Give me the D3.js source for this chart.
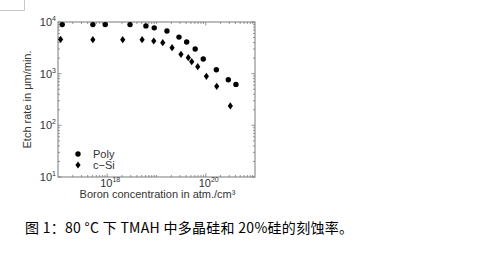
<!DOCTYPE html>
<html>
<head>
<meta charset="utf-8">
<script src="https://cdn.jsdelivr.net/npm/d3@7"></script>
<style>
  body { margin: 0; background: #fff; }
  svg text { font-family: "Liberation Sans", "DejaVu Sans", sans-serif; }
</style>
</head>
<body>
<script>
// boron concentration (atm/cm3) and etch rates
var polyX = [1.22e17, 5.1e17, 9.1e17, 2.9e18, 6.1e18, 9.0e18, 1.63e19, 2.86e19, 4.1e19, 6.1e19, 8.9e19, 1.64e20, 2.87e20, 4.1e20];
var polyY = [8900, 8900, 8900, 8900, 8400, 7700, 6700, 5100, 4100, 3000, 1920, 1190, 760, 620];
var csiX = [1.13e17, 5.1e17, 2.06e18, 5.1e18, 8.8e18, 1.34e19, 2.07e19, 3.14e19, 4.42e19, 5.19e19, 6.87e19, 1.03e20, 1.67e20, 3.16e20];
var csiY = [4600, 4550, 4550, 4550, 4290, 3980, 3180, 2370, 2040, 1710, 1365, 890, 570, 237];
var legendLabels = ["Poly", "c\u2212Si"];
var xTickVals = [1e18, 1e20];
var yTickVals = [10, 100, 1000, 10000];
var caption = "图 1：80 °C 下 TMAH 中多晶硅和 20%硅的刻蚀率。";

function draw() {
  var width = 493, height = 254;
  var pl = 58, pr = 255, pt = 22, pb = 177;
  var axisCol = "#7a7a7a", textCol = "#333";

  var svg = d3.select("body").append("svg")
      .attr("width", width)
      .attr("height", height);

  // little grey box in the top-left corner of the page
  svg.append("path")
      .attr("d", "M0,10.5H24.5V0")
      .attr("fill", "none")
      .attr("stroke", "#c8c8c8");

  var x = d3.scaleLog().domain([1e17, 1e21]).range([pl, pr]);
  var y = d3.scaleLog().domain([10, 1e4]).range([pb, pt]);

  // minor ticks, inside, on all four sides
  var xMinor = [], yMinor = [];
  for (var e = 17; e < 21; e++) for (var k = 1; k < 10; k++) {
    var v = k * Math.pow(10, e);
    if (v > 1e17 && xTickVals.indexOf(v) < 0) xMinor.push(v);
  }
  for (var e2 = 1; e2 < 4; e2++) for (var k2 = 2; k2 < 10; k2++) yMinor.push(k2 * Math.pow(10, e2));

  var ticks = svg.append("g").attr("stroke", axisCol).attr("stroke-width", 0.8);
  xMinor.forEach(function(v) {
    ticks.append("line").attr("x1", x(v)).attr("x2", x(v)).attr("y1", pb).attr("y2", pb - 2);
    ticks.append("line").attr("x1", x(v)).attr("x2", x(v)).attr("y1", pt).attr("y2", pt + 2);
  });
  xTickVals.forEach(function(v) {
    ticks.append("line").attr("x1", x(v)).attr("x2", x(v)).attr("y1", pb).attr("y2", pb - 3.5);
    ticks.append("line").attr("x1", x(v)).attr("x2", x(v)).attr("y1", pt).attr("y2", pt + 3.5);
  });
  yMinor.forEach(function(v) {
    ticks.append("line").attr("y1", y(v)).attr("y2", y(v)).attr("x1", pl).attr("x2", pl + 2);
    ticks.append("line").attr("y1", y(v)).attr("y2", y(v)).attr("x1", pr).attr("x2", pr - 2);
  });
  yTickVals.forEach(function(v) {
    ticks.append("line").attr("y1", y(v)).attr("y2", y(v)).attr("x1", pl).attr("x2", pl + 3.5);
    ticks.append("line").attr("y1", y(v)).attr("y2", y(v)).attr("x1", pr).attr("x2", pr - 3.5);
  });

  svg.append("rect")
      .attr("x", pl).attr("y", pt)
      .attr("width", pr - pl).attr("height", pb - pt)
      .attr("fill", "none")
      .attr("stroke", axisCol)
      .attr("stroke-width", 1);

  // tick labels 10^n
  function powLabel(g, v, px, py, anchor) {
    var t = g.append("text").attr("x", px).attr("y", py)
        .attr("text-anchor", anchor).attr("fill", textCol).attr("font-size", 11);
    t.append("tspan").text("10");
    t.append("tspan").attr("dy", -5).attr("font-size", 7).text(Math.round(Math.log10(v)));
  }
  var labels = svg.append("g");
  yTickVals.forEach(function(v) { powLabel(labels, v, pl - 2, y(v) + 4, "end"); });
  xTickVals.forEach(function(v) { powLabel(labels, v, x(v) + 3, pb + 10, "middle"); });

  svg.append("text")
      .attr("x", (pl + pr) / 2 + 1).attr("y", pb + 21)
      .attr("text-anchor", "middle").attr("fill", textCol).attr("font-size", 11)
      .text("Boron concentration in atm./cm\u00b3");

  svg.append("text")
      .attr("transform", "translate(31," + ((pt + pb) / 2) + ") rotate(-90)")
      .attr("text-anchor", "middle").attr("fill", textCol).attr("font-size", 11)
      .text("Etch rate in \u03bcm/min.");

  // markers
  var diamond = "M0,-3.6L2.6,0L0,3.6L-2.6,0Z";
  var plot = svg.append("g");
  plot.selectAll("circle.poly")
      .data(d3.zip(polyX, polyY))
      .enter().append("circle")
      .attr("cx", function(d) { return x(d[0]); })
      .attr("cy", function(d) { return y(d[1]); })
      .attr("r", 2.7)
      .attr("fill", "#000");
  plot.selectAll("path.csi")
      .data(d3.zip(csiX, csiY))
      .enter().append("path")
      .attr("d", diamond)
      .attr("transform", function(d) { return "translate(" + x(d[0]) + "," + y(d[1]) + ")"; })
      .attr("fill", "#000");

  // legend
  var lg = svg.append("g").attr("transform", "translate(78,154)");
  lg.append("circle").attr("cx", 0).attr("cy", 0).attr("r", 2.7).attr("fill", "#000");
  lg.append("path").attr("d", diamond).attr("transform", "translate(0,11)").attr("fill", "#000");
  lg.selectAll("text")
      .data(legendLabels)
      .enter().append("text")
      .attr("x", 15).attr("y", function(d, i) { return i * 11 + 4; })
      .attr("fill", textCol).attr("font-size", 11)
      .text(function(d) { return d; });

  svg.append("text")
      .attr("x", 25).attr("y", 233)
      .attr("fill", "#000")
      .attr("font-size", 14)
      .attr("textLength", 328)
      .attr("lengthAdjust", "spacing")
      .style("font-family", "\"Noto Sans CJK SC\", sans-serif")
      .text(caption);
}

draw();
</script>
</body>
</html>
